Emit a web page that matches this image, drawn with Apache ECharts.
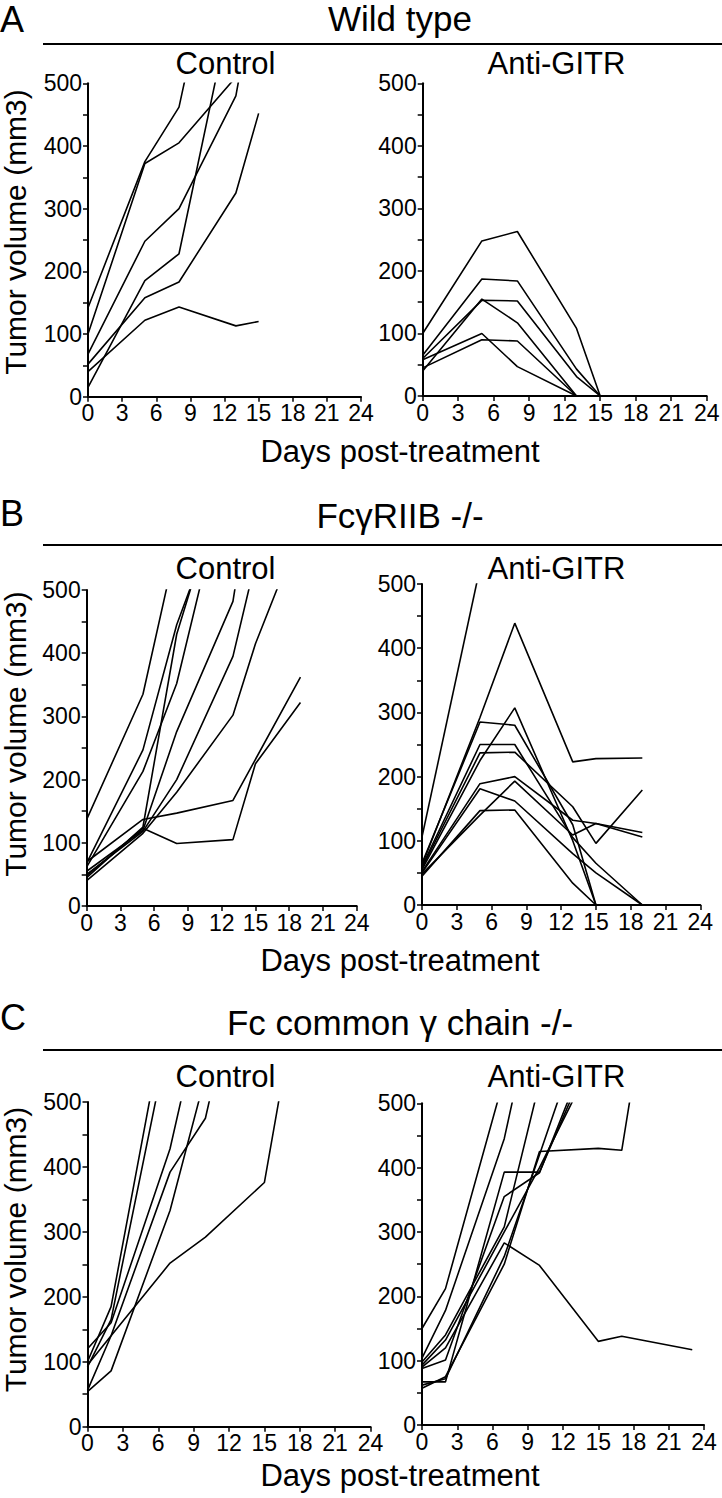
<!DOCTYPE html>
<html><head><meta charset="utf-8">
<script src="https://cdn.jsdelivr.net/npm/echarts@6/dist/echarts.min.js"></script>
<style>html,body{margin:0;padding:0;background:#fff;}#c{width:722px;height:1498px;}</style>
</head><body><div id="c"></div>
<script>
// ---------- text ----------
const panelLetters = ['A', 'B', 'C'];
const panelTitles = ['Wild type', 'FcγRIIB -/-', 'Fc common γ chain -/-'];
const groupNames = ['Control', 'Anti-GITR'];
const xAxisTitle = 'Days post-treatment';
const yAxisTitle = 'Tumor volume (mm3)';

// ---------- axis ticks ----------
const xMin = 0, xMax = 24, xStep = 3;
const yMin = 0, yMax = 500, yStep = 100;

// ---------- data: each line = one mouse, [day, tumor volume mm3] ----------
const wtControl = [
  [[0,142],[5,375],[8,462],[13,880]],
  [[0,100],[5,372],[8,405],[13,510]],
  [[0,68],[5,248],[8,300],[13,480],[15,680]],
  [[0,15],[5,185],[8,228],[13,658]],
  [[0,52],[5,158],[8,183],[13,325],[15,452]],
  [[0,40],[5,122],[8,143],[13,113],[15,120]]
];
const wtAnti = [
  [[0,100],[5,248],[8,263],[13,108],[15,0]],
  [[0,65],[5,187],[8,184],[13,43],[15,0]],
  [[0,60],[5,153],[8,152],[13,31],[15,0]],
  [[0,40],[5,155],[8,117],[13,0]],
  [[0,58],[5,100],[8,47],[13,0]],
  [[0,45],[5,90],[8,88],[13,0]]
];
const fcgControl = [
  [[0,137],[5,335],[8,574]],
  [[0,68],[5,247],[8,445],[13,685]],
  [[0,45],[5,125],[8,430],[13,720]],
  [[0,62],[5,213],[8,352],[13,720]],
  [[0,55],[5,120],[8,276],[13,482],[15,707]],
  [[0,50],[5,118],[8,200],[13,395],[15,545]],
  [[0,40],[5,115],[8,180],[13,302],[15,415],[19,595]],
  [[0,70],[5,137],[8,147],[13,167],[19,362]],
  [[0,48],[5,123],[8,99],[13,105],[15,225],[19,322]]
];
const fcgAnti = [
  [[0,106],[5,525]],
  [[0,62],[5,292],[8,439],[13,223],[15,228],[19,229]],
  [[0,55],[5,225],[8,307],[13,100],[15,0]],
  [[0,65],[5,285],[8,280],[13,125],[15,0]],
  [[0,60],[5,250],[8,250],[13,105],[15,65],[19,0]],
  [[0,58],[5,237],[8,238],[13,153],[15,96],[19,179]],
  [[0,52],[5,189],[8,200],[13,132],[15,127],[19,106]],
  [[0,50],[5,181],[8,162],[13,80],[15,50],[19,0]],
  [[0,45],[5,147],[8,148],[13,34],[15,0]],
  [[0,48],[5,140],[8,193],[13,109],[15,127],[19,113]]
];
const gammaControl = [
  [[0,100],[2,185],[7,670]],
  [[0,92],[2,165],[7,610]],
  [[0,120],[2,160],[7,428],[10,668]],
  [[0,56],[2,140],[7,392],[10,475],[15,876]],
  [[0,54],[2,86],[7,333],[10,540]],
  [[0,95],[2,140],[7,252],[10,292],[15,376],[17,582]]
];
const gammaAnti = [
  [[0,150],[2,212],[7,540]],
  [[0,104],[2,178],[7,445],[10,695]],
  [[0,98],[2,140],[7,308],[10,532]],
  [[0,93],[2,132],[7,300],[10,400],[13,510]],
  [[0,67],[2,67],[7,393],[10,393],[13,520]],
  [[0,88],[2,101],[7,355],[10,392],[13,530]],
  [[0,57],[2,75],[7,250],[10,425],[15,430],[17,427],[18,540]],
  [[0,90],[2,120],[7,283],[10,248],[15,130],[17,138],[23,117]],
  [[0,62],[2,72],[7,262],[10,420],[13,580]]
];
const panelData = [wtControl, wtAnti, fcgControl, fcgAnti, gammaControl, gammaAnti];

// ---------- layout (pixels) ----------
const FONT = '"Liberation Sans", Arial, Helvetica, sans-serif';
const gridBoxes = [
  {left:88, top:83.3, width:273, height:313.4},
  {left:422.7, top:83.3, width:284, height:312.7},
  {left:86.7, top:590, width:270, height:316},
  {left:422, top:584, width:278.3, height:321},
  {left:87.5, top:1102, width:283, height:324.7},
  {left:422, top:1103.3, width:282, height:321.7}
];
const rowLayout = [
  {letterY:19.5, titleY:18.5, ruleY:44, subY:63, xTitleY:451.5, yTitleY:232},
  {letterY:513.5, titleY:515, ruleY:545, subY:568.5, xTitleY:960, yTitleY:734},
  {letterY:1017, titleY:1022, ruleY:1050, subY:1076, xTitleY:1475, yTitleY:1249.5}
];

const grids = gridBoxes.map(b => Object.assign({containLabel:false, outerBoundsMode:'none'}, b));
const xAxes = gridBoxes.map((b, i) => ({
  gridIndex:i, type:'value', min:xMin, max:xMax, interval:xStep,
  axisLine:{show:true, onZero:false, lineStyle:{color:'#000', width:2}},
  axisTick:{show:true, length:5, lineStyle:{color:'#000', width:1.5}},
  axisLabel:{color:'#000', fontSize:23, fontFamily:FONT, margin:5},
  splitLine:{show:false}
}));
const yAxes = gridBoxes.map((b, i) => ({
  gridIndex:i, type:'value', min:yMin, max:yMax, interval:yStep,
  axisLine:{show:true, onZero:false, lineStyle:{color:'#000', width:2}},
  axisTick:{show:true, length:5, lineStyle:{color:'#000', width:1.5}},
  minorTick:{show:true, splitNumber:2, length:5, lineStyle:{color:'#000', width:1.5}},
  axisLabel:{color:'#000', fontSize:23, fontFamily:FONT, margin:6},
  splitLine:{show:false}, minorSplitLine:{show:false}
}));

const series = [];
panelData.forEach((lines, gi) => {
  lines.forEach(pts => {
    series.push({
      type:'line', xAxisIndex:gi, yAxisIndex:gi, data:pts, clip:true,
      symbol:'none', silent:true, animation:false,
      lineStyle:{color:'#000', width:1.6}
    });
  });
});

const txt = (text, x, y, size, align, rot) => ({
  type:'text', x:x, y:y, rotation:rot || 0, silent:true,
  style:{text:text, fill:'#000', fontSize:size, fontFamily:FONT,
         textAlign:align, align:align, textVerticalAlign:'middle', verticalAlign:'middle'}
});
const graphics = [];
rowLayout.forEach((r, ri) => {
  graphics.push(txt(panelLetters[ri], 0, r.letterY, 36, 'left'));
  graphics.push(txt(panelTitles[ri], 400, r.titleY, 35, 'center'));
  graphics.push({type:'line', silent:true, shape:{x1:43, y1:r.ruleY, x2:722, y2:r.ruleY},
                 style:{stroke:'#000', lineWidth:2}});
  graphics.push(txt(groupNames[0], 225.5, r.subY, 31, 'center'));
  graphics.push(txt(groupNames[1], 556.5, r.subY, 31, 'center'));
  graphics.push(txt(xAxisTitle, 400, r.xTitleY, 31, 'center'));
  graphics.push(txt(yAxisTitle, 15, r.yTitleY, 30, 'center', Math.PI / 2));
});

const chart = echarts.init(document.getElementById('c'), null, {renderer:'svg', width:722, height:1498});
chart.setOption({
  animation:false,
  backgroundColor:'#fff',
  grid:grids, xAxis:xAxes, yAxis:yAxes, series:series,
  graphic:graphics
});
</script>
</body></html>
